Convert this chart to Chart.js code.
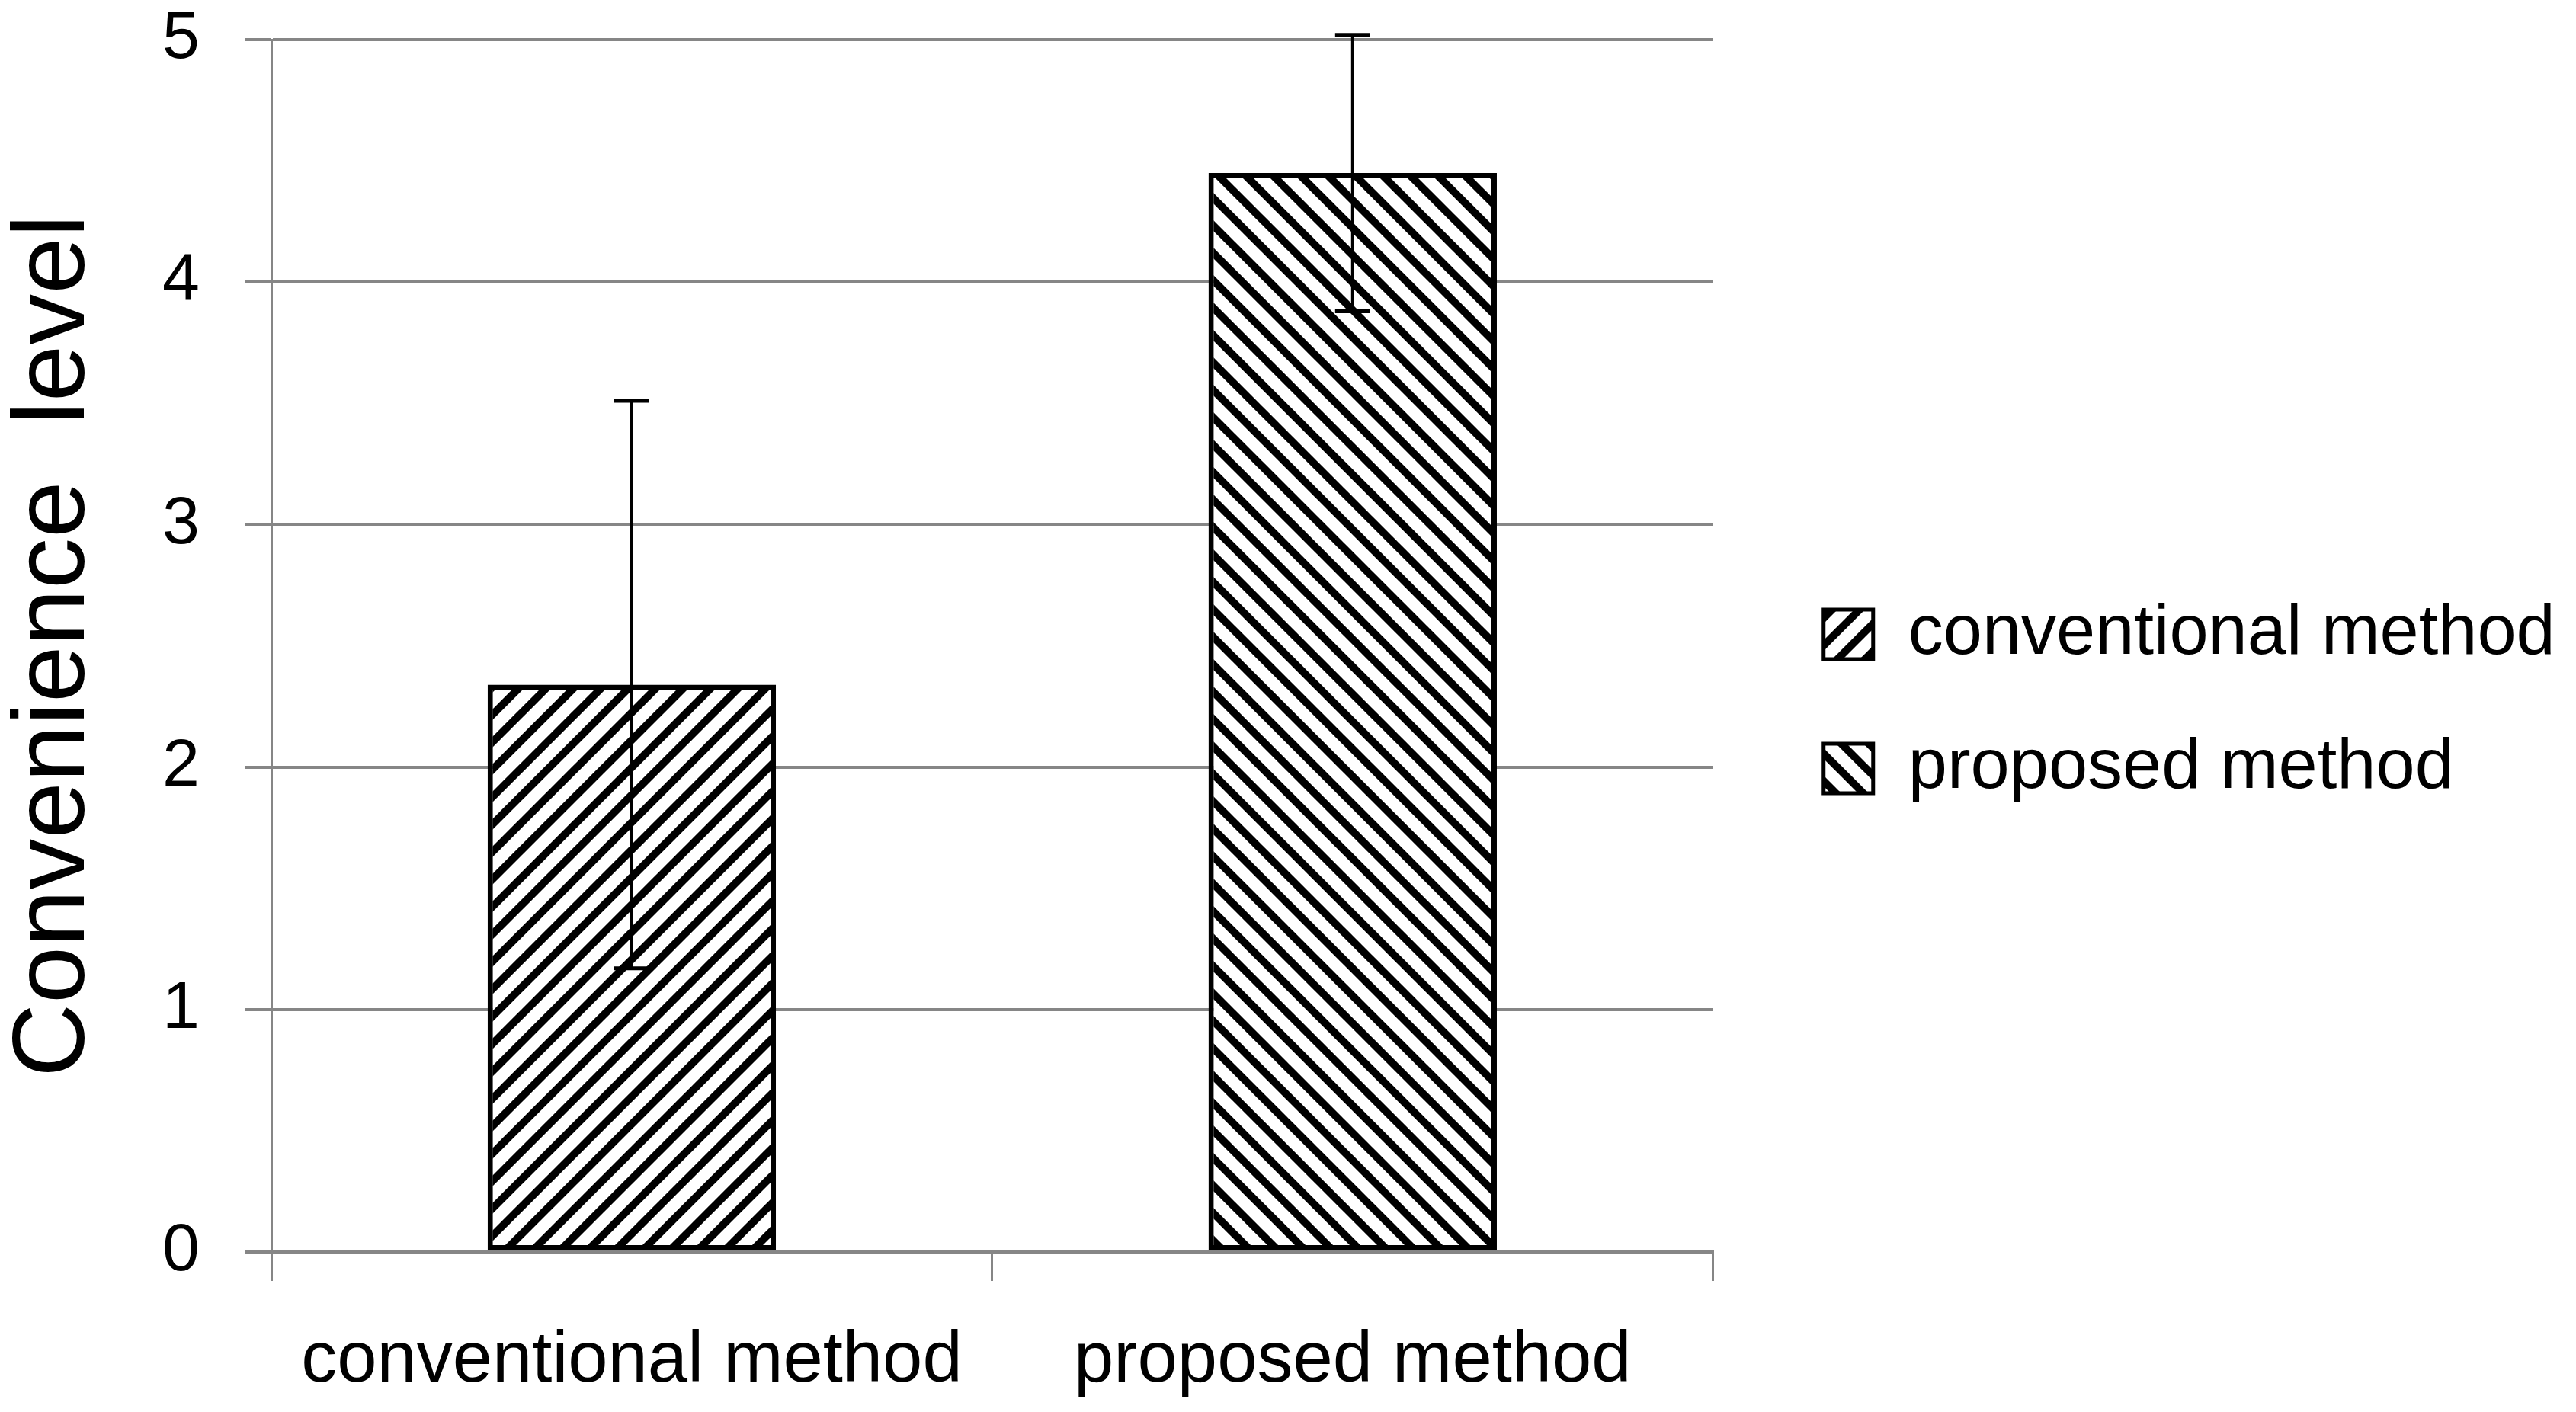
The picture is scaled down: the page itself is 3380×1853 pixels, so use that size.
<!DOCTYPE html>
<html lang="en">
<head>
<meta charset="UTF-8">
<title>Convenience level</title>
<script src="https://cdn.jsdelivr.net/npm/chart.js"></script>
<style>
  html, body { margin: 0; padding: 0; background: #fff; }
  .wrap { width: 3380px; height: 1853px; }
</style>
</head>
<body>
<div class="wrap"><canvas id="conv" width="3380" height="1853"></canvas></div>
<script>
  // values
  const methods = ['conventional method', 'proposed method'];
  const meanLevel = [2.34, 4.45];
  const errLevel = [1.17, 0.57];
  const yRange = [0, 5];

  const gray = '#868686';
  const fontName = '"Liberation Sans", Arial, sans-serif';

  const canvas = document.getElementById('conv');
  const ctx = canvas.getContext('2d');

  // striped fill, dir 1 = "/" , dir -1 = "\"
  function hatch(dir) {
    const s = 36;
    const tile = document.createElement('canvas');
    tile.width = s; tile.height = s;
    const g = tile.getContext('2d');
    g.fillStyle = '#fff';
    g.fillRect(0, 0, s, s);
    g.strokeStyle = '#000';
    g.lineWidth = 10;
    g.beginPath();
    for (const o of [-s, 0, s]) {
      // run each stripe past the tile edges so the corners join up
      if (dir > 0) { g.moveTo(o - s, 2 * s); g.lineTo(o + 2 * s, -s); }
      else { g.moveTo(o - s, -s); g.lineTo(o + 2 * s, 2 * s); }
    }
    g.stroke();
    return ctx.createPattern(tile, 'repeat');
  }
  const fills = [hatch(1), hatch(-1)];

  // error bars on top of the bars
  const errorBars = {
    id: 'errorBars',
    afterDatasetsDraw(chart) {
      const y = chart.scales.y;
      const bars = chart.getDatasetMeta(0).data;
      const c = chart.ctx;
      c.save();
      c.strokeStyle = '#000';
      bars.forEach((bar, i) => {
        const hi = y.getPixelForValue(meanLevel[i] + errLevel[i]);
        const lo = y.getPixelForValue(meanLevel[i] - errLevel[i]);
        c.lineWidth = 4;
        c.beginPath();
        c.moveTo(bar.x, lo); c.lineTo(bar.x, hi);
        c.stroke();
        c.lineWidth = 5;
        c.beginPath();
        c.moveTo(bar.x - 23, hi); c.lineTo(bar.x + 23, hi);
        c.moveTo(bar.x - 23, lo); c.lineTo(bar.x + 23, lo);
        c.stroke();
      });
      c.restore();
    }
  };

  // legend sits a little further from the plot than chart.js puts it,
  // and gets the rest of the canvas width so the text is not clipped
  const legendNudge = {
    id: 'legendNudge',
    afterLayout(chart) {
      const l = chart.legend;
      l.left += 61;
      l.right = chart.width;
      l.width = l.right - l.left;
      l.top -= 6; l.bottom -= 6;
    }
  };

  new Chart(ctx, {
    type: 'bar',
    data: {
      labels: methods,
      datasets: [{
        data: meanLevel,
        backgroundColor: fills,
        borderColor: '#000',
        borderWidth: 7,
        borderSkipped: false,
        barPercentage: 0.4,
        categoryPercentage: 1
      }]
    },
    options: {
      responsive: false,
      animation: false,
      layout: { padding: { top: 0, right: 383, left: 0, bottom: 0 } },
      plugins: {
        tooltip: { enabled: false },
        legend: {
          position: 'right',
          labels: {
            color: '#000',
            font: { family: fontName, size: 92 },
            boxWidth: 65,
            boxHeight: 65,
            padding: 84,
            generateLabels: () => methods.map((m, i) => ({
              text: m,
              fillStyle: fills[i],
              strokeStyle: '#000',
              lineWidth: 5,
              hidden: false,
              index: i,
              datasetIndex: 0
            }))
          }
        }
      },
      scales: {
        x: {
          offset: true,
          afterFit: s => { s.height = 210; },
          grid: { offset: true, drawOnChartArea: false, color: gray, lineWidth: 3, tickLength: 38 },
          border: { color: gray, width: 4 },
          ticks: { color: '#000', font: { family: fontName, size: 94 }, padding: 50, maxRotation: 0 }
        },
        y: {
          min: yRange[0],
          max: yRange[1],
          afterFit: s => { s.width = 356; s.paddingTop = 52; },
          grid: { color: gray, lineWidth: 4, tickLength: 34 },
          border: { color: gray, width: 3 },
          ticks: { stepSize: 1, color: '#000', font: { family: fontName, size: 88 }, padding: 60 },
          title: {
            display: true,
            text: 'Convenience  level',
            color: '#000',
            font: { family: fontName, size: 134, lineHeight: 1 },
            padding: { top: 6, bottom: 0 }
          }
        }
      }
    },
    plugins: [errorBars, legendNudge]
  });
</script>
</body>
</html>
